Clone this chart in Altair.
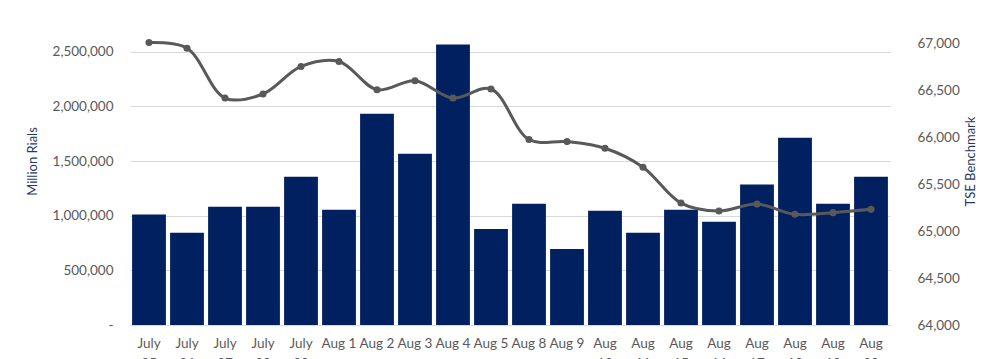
import altair as alt
import pandas as pd

dates = ["July 25", "July 26", "July 27", "July 28", "July 29", "Aug 1", "Aug 2",
         "Aug 3", "Aug 4", "Aug 5", "Aug 8", "Aug 9", "Aug 10", "Aug 11", "Aug 15",
         "Aug 16", "Aug 17", "Aug 18", "Aug 19", "Aug 20"]
value_traded = [1010000, 843000, 1081000, 1081000, 1356000, 1053000, 1933000,
                1566000, 2565000, 879000, 1108000, 696000, 1044000, 843000, 1053000,
                944000, 1285000, 1713000, 1108000, 1356000]
tse_index = [67014, 66954, 66422, 66465, 66759, 66812, 66511, 66606, 66422, 66518,
             65979, 65957, 65886, 65684, 65301, 65216, 65290, 65181, 65199, 65234]
left_ticks = [0, 500000, 1000000, 1500000, 2000000, 2500000, 3000000]
right_ticks = [64000, 64500, 65000, 65500, 66000, 66500, 67000, 67500]

df = pd.DataFrame({"date": dates, "value": value_traded, "tse": tse_index})

FONT = "Lato"
GRAY = "#595959"
NAVY = "#002060"

x = alt.X("date:N", sort=dates, title=None,
          scale=alt.Scale(paddingInner=0.11, paddingOuter=0.055),
          axis=alt.Axis(labelAngle=0, ticks=False, domain=True, domainColor="#D9D9D9",
                        labelColor=GRAY, labelFontSize=13.5, labelFont=FONT,
                        labelPadding=11, labelLineHeight=20, labelBaseline="top",
                        labelExpr="length(datum.label) > 5 ? split(datum.label, ' ') : datum.label"))

bars = alt.Chart(df).mark_bar(color=NAVY).encode(
    x=x,
    y=alt.Y("value:Q", title="Million Rials",
            scale=alt.Scale(domain=[0, 3000000], nice=False),
            axis=alt.Axis(values=left_ticks, ticks=False, domain=False,
                          gridColor="#D9D9D9", labelColor=GRAY, labelFontSize=13.5,
                          labelFont=FONT, labelPadding=17,
                          labelExpr="datum.value == 0 ? '-' : format(datum.value, ',')",
                          titleColor="#1F3864", titleFontSize=13, titleFont=FONT,
                          titleFontWeight="normal", titlePadding=13)),
)

line = alt.Chart(df).mark_line(
    color=GRAY, strokeWidth=3, interpolate="catmull-rom",
    point=alt.OverlayMarkDef(color=GRAY, filled=True, size=50, opacity=1),
).encode(
    x=x,
    y=alt.Y("tse:Q", title="TSE Benchmark",
            scale=alt.Scale(domain=[64000, 67500], nice=False, zero=False),
            axis=alt.Axis(orient="right", values=right_ticks, ticks=False, domain=False,
                          grid=False, labelColor=GRAY, labelFontSize=13.5, labelFont=FONT,
                          labelPadding=27, titleColor="#1F3864", titleFontSize=13,
                          titleFont=FONT, titleFontWeight="normal", titleAngle=270,
                          titlePadding=18)),
)

chart = alt.layer(bars, line).resolve_scale(y="independent").properties(
    width=760, height=328,
    autosize=alt.AutoSizeParams(type="none"),
    padding={"left": 122, "top": -11, "right": 100, "bottom": 40},
    view=alt.ViewBackground(strokeOpacity=0, strokeWidth=0),
).configure_view(strokeWidth=0, strokeOpacity=0).configure_axisY(
    domain=False, domainOpacity=0
).configure(background="white")

chart.save("out.html", embed_options={"renderer": "svg", "actions": False})
